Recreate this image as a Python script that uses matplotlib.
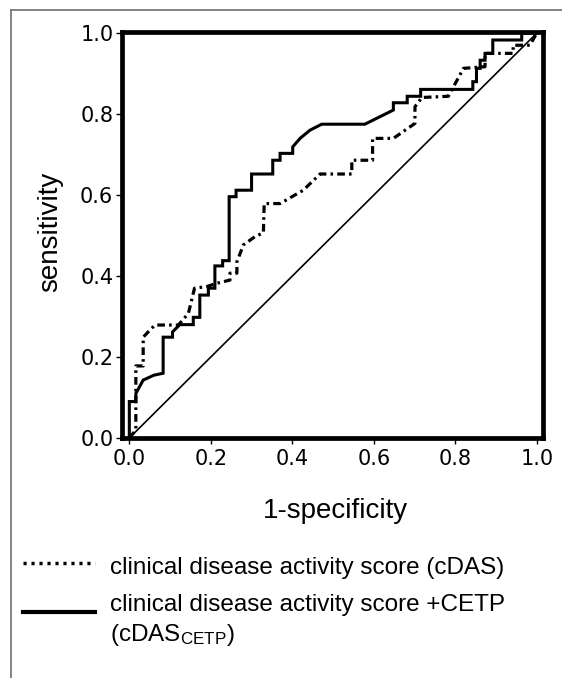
"""
ROC curves: cDAS vs cDAS + CETP.
"""
import matplotlib
matplotlib.use("Agg")
import matplotlib.pyplot as plt
from matplotlib.lines import Line2D

plt.rcParams.update({
    "mathtext.fontset": "custom",
    "mathtext.rm": "Liberation Sans",
    "mathtext.it": "Liberation Sans",
})

# ROC vertices (1-specificity, sensitivity)
cdas_fpr = [0.0, 0.016, 0.016, 0.034, 0.034, 0.051, 0.063, 0.12, 0.13, 0.145,
            0.16, 0.19, 0.214, 0.247, 0.247, 0.264, 0.264, 0.28, 0.308, 0.329,
            0.331, 0.37, 0.427, 0.468, 0.546, 0.546, 0.597, 0.597, 0.648,
            0.701, 0.701, 0.718, 0.783, 0.82, 0.873, 0.873, 0.942, 0.942,
            0.983, 1.0]
cdas_tpr = [0.0, 0.02, 0.178, 0.178, 0.249, 0.267, 0.279, 0.279, 0.29, 0.308,
            0.37, 0.374, 0.382, 0.39, 0.407, 0.407, 0.435, 0.477, 0.497, 0.507,
            0.579, 0.579, 0.612, 0.652, 0.652, 0.686, 0.686, 0.74, 0.74,
            0.777, 0.818, 0.841, 0.844, 0.913, 0.917, 0.95, 0.95, 0.97,
            0.97, 1.0]

cetp_fpr = [0.0, 0.0, 0.016, 0.016, 0.034, 0.06, 0.083, 0.083, 0.106, 0.106,
            0.124, 0.157, 0.157, 0.173, 0.173, 0.194, 0.194, 0.21, 0.21, 0.229,
            0.229, 0.245, 0.245, 0.262, 0.262, 0.300, 0.300, 0.352, 0.352, 0.37,
            0.37, 0.401, 0.401, 0.419, 0.443, 0.472, 0.578, 0.648, 0.648, 0.682,
            0.682, 0.715, 0.715, 0.843, 0.843, 0.852, 0.852, 0.861, 0.861,
            0.873, 0.873, 0.892, 0.892, 0.963, 0.963, 1.0]
cetp_tpr = [0.0, 0.09, 0.09, 0.11, 0.143, 0.155, 0.16, 0.249, 0.249, 0.262,
            0.28, 0.28, 0.298, 0.298, 0.353, 0.353, 0.37, 0.37, 0.425, 0.425,
            0.438, 0.438, 0.596, 0.596, 0.612, 0.612, 0.652, 0.652, 0.686, 0.686,
            0.703, 0.703, 0.719, 0.74, 0.76, 0.775, 0.775, 0.81, 0.828, 0.828,
            0.844, 0.844, 0.861, 0.861, 0.88, 0.88, 0.913, 0.913, 0.933,
            0.933, 0.95, 0.95, 0.983, 0.983, 1.0, 1.0]

ticks = [0.0, 0.2, 0.4, 0.6, 0.8, 1.0]
label_cdas = "clinical disease activity score (cDAS)"
label_cetp_1 = "clinical disease activity score +CETP"
label_cetp_2 = r"(cDAS$_{\mathrm{CETP}}$)"

W, H = 562, 678
fig = plt.figure(figsize=(W / 100, H / 100), dpi=100)
ax = fig.add_axes([121.7 / W, 1 - 438 / H, (542.7 - 121.7) / W, (438 - 32.3) / H])

ax.plot([0, 1], [0, 1], color="black", lw=1.2)
ax.plot(cdas_fpr, cdas_tpr, color="black", lw=2.3,
        dashes=(2.4, 1.3, 0.8, 1.3), solid_joinstyle="miter")
ax.plot(cetp_fpr, cetp_tpr, color="black", lw=2.2, solid_joinstyle="miter")

ax.set_xlim(-0.0187, 1.0145)
ax.set_ylim(0, 1.002)
ax.set_xticks(ticks)
ax.set_yticks(ticks)
ax.set_xticklabels([f"{t:.1f}" for t in ticks])
ax.set_yticklabels([f"{t:.1f}" for t in ticks])
for s in ax.spines.values():
    s.set_linewidth(3.4)
ax.tick_params(axis="both", direction="out", length=4.5, width=1.0,
               labelsize=15)
ax.tick_params(axis="x", pad=3.5)
ax.tick_params(axis="y", pad=1.5)

fig.text(50 / W, 1 - 232 / H, "sensitivity", rotation=90, ha="center",
         va="center", fontsize=20, family="Liberation Sans")
fig.text(335 / W, 1 - 511 / H, "1-specificity", ha="center", va="center",
         fontsize=20, family="Liberation Sans")

# legend below the axes
fig.add_artist(Line2D([23 / W, 95 / W], [1 - 563 / H, 1 - 563 / H],
                      color="black", lw=2.5, linestyle=(0, (0.9, 1.4))))
fig.add_artist(Line2D([23 / W, 95 / W], [1 - 612 / H, 1 - 612 / H],
                      color="black", lw=3.0))
fig.text(110 / W, 1 - 568 / H, label_cdas, ha="left", va="center",
         fontsize=17.5, family="Liberation Sans")
fig.text(110 / W, 1 - 605 / H, label_cetp_1, ha="left", va="center",
         fontsize=17.5, family="Liberation Sans")
fig.text(110 / W, 1 - 635 / H, label_cetp_2, ha="left", va="center",
         fontsize=17.5, family="Liberation Sans")

# thin frame on top and left edge
fig.add_artist(Line2D([11 / W, 1.0], [1 - 10 / H, 1 - 10 / H],
                      color="#707070", lw=1.2))
fig.add_artist(Line2D([11 / W, 11 / W], [0.0, 1 - 10 / H],
                      color="#707070", lw=1.2))

fig.savefig("out.png", dpi=100)
